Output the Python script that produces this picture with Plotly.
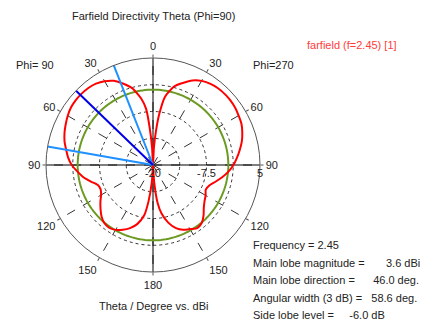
import plotly.graph_objects as go

# Farfield directivity cut (theta sweep) for the two half-planes, in dBi
theta_deg = [0, 3, 5, 7, 10, 15, 20, 25, 30, 35, 40, 46, 50, 55, 60, 65, 70, 75, 80, 85,
             90, 95, 100, 105, 110, 115, 120, 125, 130, 135, 140, 145, 150, 155, 160,
             165, 170, 173, 176, 180]
dir_phi90 = [-20, -16, -11.5, -6.8, -4.3, -1.5, 0.2, 1.7, 2.6, 3.2, 3.5, 3.6, 3.55, 3.4,
             3.0, 2.5, 2.0, 1.4, 0.6, -0.1, -1.0, -2.3, -3.5, -5.0, -6.3, -6.5, -6.0,
             -5.0, -4.0, -3.0, -2.3, -2.1, -2.5, -3.3, -4.3, -5.7, -8.0, -11.5, -16, -20]
dir_phi270 = [-20, -16, -12, -8, -3.8, -1.0, 0.4, 1.8, 2.7, 3.2, 3.5, 3.6, 3.55, 3.4,
              3.1, 2.8, 2.2, 1.5, 0.6, -0.3, -1.2, -2.3, -3.6, -4.9, -6.0, -6.4, -5.8,
              -5.3, -4.5, -3.3, -2.3, -2.0, -2.7, -3.3, -4.3, -6.0, -8.5, -11, -16, -20]

# Summary results
frequency = 2.45
main_lobe_mag = 3.6
main_lobe_dir = 46.0
beam_edges = [21.5, 80.1]
angular_width = 58.6
side_lobe_level = -6.0

# Radial scale (dB) and its labels
r_range = [-20, 5]
r_grid = [-20, -13.75, -7.5, -1.25, 5]
r_text = ["-20", "", "-7.5", "", "5"]

# Angular ticks: left half is Phi=90, right half is Phi=270
ang_vals = [0, 30, 60, 90, 120, 150, 180, 210, 240, 270, 300, 330]
ang_text = ["0", "30", "60", "90", "120", "150", "180", "150", "120", "90", "60", "30"]

W, H = 427, 325
cx, cy, R = 153, 165, 107
FONT = "Liberation Sans"
TXT = "#222222"

# closed curve: phi=90 on the left (0..180), phi=270 on the right (180..0)
curve_theta = theta_deg + [360 - t for t in reversed(theta_deg)]
curve_r = dir_phi90 + list(reversed(dir_phi270))

fig = go.Figure()

# solid cross through the origin
fig.add_trace(go.Scatterpolar(r=[r_range[1], r_range[0], r_range[1]], theta=[0, 0, 180],
                              mode="lines", line=dict(color="black", width=1)))
fig.add_trace(go.Scatterpolar(r=[r_range[1], r_range[0], r_range[1]], theta=[90, 90, 270],
                              mode="lines", line=dict(color="black", width=1)))

# side lobe level circle
sll_theta = list(range(0, 361, 2))
fig.add_trace(go.Scatterpolar(r=[main_lobe_mag + side_lobe_level] * len(sll_theta),
                              theta=sll_theta, mode="lines",
                              line=dict(color="#6b9a22", width=2)))

# directivity pattern
fig.add_trace(go.Scatterpolar(r=curve_r, theta=curve_theta, mode="lines",
                              line=dict(color="#ff0000", width=2, shape="spline", smoothing=0.6)))

# 3 dB beam edges and main lobe direction
for b in beam_edges:
    fig.add_trace(go.Scatterpolar(r=r_range, theta=[b, b], mode="lines",
                                  line=dict(color="#1e90ff", width=2)))
fig.add_trace(go.Scatterpolar(r=r_range, theta=[main_lobe_dir, main_lobe_dir], mode="lines",
                              line=dict(color="#0000e6", width=2)))

dx0 = (cx - R) / W
dx1 = (cx + R) / W
dy0 = 1 - (cy + R) / H
dy1 = 1 - (cy - R) / H

fig.update_layout(
    width=W, height=H,
    margin=dict(l=0, r=0, t=0, b=0),
    paper_bgcolor="white",
    showlegend=False,
    hovermode=False,
    font=dict(family=FONT, size=11, color=TXT),
    polar=dict(
        domain=dict(x=[dx0, dx1], y=[dy0, dy1]),
        bgcolor="white",
        radialaxis=dict(range=r_range, tickvals=r_grid, ticktext=r_text, angle=0,
                        side="clockwise", showline=False, ticks="",
                        showgrid=True, gridcolor="#333333", gridwidth=1, griddash="dot",
                        tickfont=dict(family=FONT, size=11, color=TXT)),
        angularaxis=dict(rotation=90, direction="counterclockwise", tickvals=ang_vals,
                         ticktext=ang_text, showline=True, linecolor="#555555", linewidth=1,
                         ticks="outside", ticklen=3, tickcolor="#555555",
                         showgrid=True, gridcolor="#333333", gridwidth=1, griddash="dash",
                         tickfont=dict(family=FONT, size=11, color=TXT)),
    ),
)


def px_note(text, x, y, anchor="center", color=TXT):
    fig.add_annotation(text=text, x=x / W, y=1 - y / H, xref="paper", yref="paper",
                       xanchor=anchor, yanchor="middle", showarrow=False,
                       font=dict(family=FONT, size=11, color=color))


nb = "\u00a0"
px_note("Farfield Directivity Theta (Phi=90)", 153, 16)
px_note(f"farfield (f={frequency}) [1]", 305, 45, anchor="left", color="#ff3c3c")
px_note("Phi=" + nb + "90", 14, 65, anchor="left")
px_note("Phi=270", 251, 65, anchor="left")
px_note("Theta / Degree vs. dBi", 153, 306)

info = [
    f"Frequency = {frequency}",
    f"Main lobe magnitude = {nb*6}{main_lobe_mag:.1f} dBi",
    f"Main lobe direction = {nb*5}{main_lobe_dir:.1f} deg.",
    f"Angular width (3 dB) = {nb*2}{angular_width:.1f} deg.",
    f"Side lobe level = {nb*4}{side_lobe_level:.1f} dB",
]
for i, line in enumerate(info):
    px_note(line, 251, 245 + i * 17.5, anchor="left")

fig.write_html("out.html")
